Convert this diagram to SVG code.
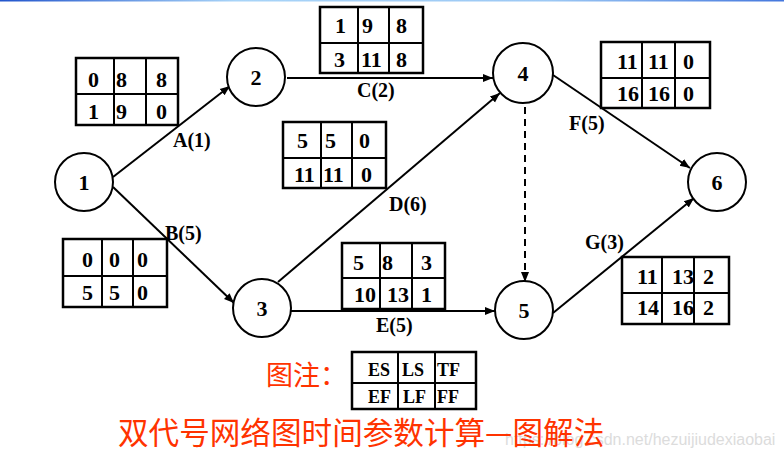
<svg xmlns="http://www.w3.org/2000/svg" width="784" height="460" viewBox="0 0 784 460">
<style>
.nd{fill:#fff;stroke:#000;stroke-width:2}
.nt{font-family:"Liberation Serif",serif;font-weight:bold;font-size:22px;text-anchor:middle;fill:#000}
.tb{fill:#fff;stroke:#000;stroke-width:2.5}
.tl{stroke:#000;stroke-width:2}
.tt{font-family:"Liberation Serif",serif;font-weight:bold;font-size:22px;fill:#000}
.lt{font-family:"Liberation Serif",serif;font-weight:bold;font-size:18px;fill:#000}
.el{font-family:"Liberation Serif",serif;font-weight:bold;font-size:20px;fill:#000}
.cn{stroke:#000;stroke-width:2;fill:none}
.red{font-family:"Noto Sans CJK SC",sans-serif;fill:#FF3300}
</style>
<defs>
<marker id="ah" viewBox="0 0 10 10" refX="10" refY="5" markerWidth="10" markerHeight="10" markerUnits="userSpaceOnUse" orient="auto">
<path d="M0,1 L10,5 L0,9 Z" fill="#000"/>
</marker>
<linearGradient id="bl" x1="0" y1="0" x2="1" y2="0">
<stop offset="0" stop-color="#2255cc"/>
<stop offset="0.3" stop-color="#a8d4f8"/>
<stop offset="0.7" stop-color="#9cc8f4"/>
<stop offset="1" stop-color="#4477dd"/>
</linearGradient>
</defs>
<rect width="784" height="460" fill="#fff"/>
<rect x="0" y="0" width="784" height="1.5" fill="url(#bl)"/>

<g id="connectors">
<line class="cn" x1="113" y1="177" x2="230" y2="86" marker-end="url(#ah)"/>
<line class="cn" x1="113" y1="187" x2="234" y2="303" marker-end="url(#ah)"/>
<line class="cn" x1="287" y1="78" x2="493" y2="78" marker-end="url(#ah)"/>
<line class="cn" x1="278" y1="282" x2="500" y2="93" marker-end="url(#ah)"/>
<line class="cn" x1="291" y1="311" x2="495" y2="311" marker-end="url(#ah)"/>
<line class="cn" x1="525" y1="107" x2="525" y2="282" stroke-dasharray="7,5" marker-end="url(#ah)"/>
<line class="cn" x1="553" y1="75" x2="690" y2="168" marker-end="url(#ah)"/>
<line class="cn" x1="553" y1="313" x2="694" y2="198" marker-end="url(#ah)"/>
<text class="el" x="173" y="147">A(1)</text>
<text class="el" x="165" y="240">B(5)</text>
<text class="el" x="357" y="97">C(2)</text>
<text class="el" x="389" y="211">D(6)</text>
<text class="el" x="376" y="332">E(5)</text>
<text class="el" x="569" y="130">F(5)</text>
<text class="el" x="585" y="249">G(3)</text>
</g>

<g id="node1"><circle class="nd" cx="84" cy="182" r="29"/><text class="nt" x="84" y="190">1</text></g>
<g id="node2"><circle class="nd" cx="256" cy="77" r="29"/><text class="nt" x="256" y="85">2</text></g>
<g id="node3"><circle class="nd" cx="262" cy="308" r="29"/><text class="nt" x="262" y="316">3</text></g>
<g id="node4"><circle class="nd" cx="523" cy="73" r="30"/><text class="nt" x="523" y="81">4</text></g>
<g id="node5"><circle class="nd" cx="524" cy="310" r="29"/><text class="nt" x="524" y="318">5</text></g>
<g id="node6"><circle class="nd" cx="717" cy="182" r="29"/><text class="nt" x="717" y="190">6</text></g>

<g id="tableA">
<rect class="tb" x="76" y="58" width="102" height="67"/>
<line class="tl" x1="114" y1="58" x2="114" y2="125"/><line class="tl" x1="146" y1="58" x2="146" y2="125"/><line class="tl" x1="76" y1="94" x2="178" y2="94"/>
<text class="tt" x="88" y="87">0</text><text class="tt" x="116" y="87">8</text><text class="tt" x="156" y="87">8</text>
<text class="tt" x="88" y="119">1</text><text class="tt" x="116" y="119">9</text><text class="tt" x="156" y="119">0</text>
</g>
<g id="tableB">
<rect class="tb" x="63" y="239" width="104" height="68"/>
<line class="tl" x1="102" y1="239" x2="102" y2="307"/><line class="tl" x1="133" y1="239" x2="133" y2="307"/><line class="tl" x1="63" y1="276" x2="167" y2="276"/>
<text class="tt" x="82" y="267">0</text><text class="tt" x="109" y="267">0</text><text class="tt" x="137" y="267">0</text>
<text class="tt" x="82" y="300">5</text><text class="tt" x="109" y="300">5</text><text class="tt" x="137" y="300">0</text>
</g>
<g id="tableC">
<rect class="tb" x="320" y="7" width="103" height="66"/>
<line class="tl" x1="358" y1="7" x2="358" y2="73"/><line class="tl" x1="389" y1="7" x2="389" y2="73"/><line class="tl" x1="320" y1="43" x2="423" y2="43"/>
<text class="tt" x="335" y="33">1</text><text class="tt" x="362" y="33">9</text><text class="tt" x="396" y="33">8</text>
<text class="tt" x="334" y="67">3</text><text class="tt" x="361" y="67">11</text><text class="tt" x="396" y="67">8</text>
</g>
<g id="tableD">
<rect class="tb" x="283" y="122" width="103" height="66"/>
<line class="tl" x1="321" y1="122" x2="321" y2="188"/><line class="tl" x1="352" y1="122" x2="352" y2="188"/><line class="tl" x1="283" y1="158" x2="386" y2="158"/>
<text class="tt" x="297" y="148">5</text><text class="tt" x="325" y="148">5</text><text class="tt" x="359" y="148">0</text>
<text class="tt" x="294" y="182">11</text><text class="tt" x="323" y="182">11</text><text class="tt" x="361" y="182">0</text>
</g>
<g id="tableE">
<rect class="tb" x="342" y="243" width="103" height="66"/>
<line class="tl" x1="380" y1="243" x2="380" y2="309"/><line class="tl" x1="412" y1="243" x2="412" y2="309"/><line class="tl" x1="342" y1="278" x2="445" y2="278"/>
<text class="tt" x="353" y="270">5</text><text class="tt" x="382" y="270">8</text><text class="tt" x="421" y="270">3</text>
<text class="tt" x="354" y="302">10</text><text class="tt" x="387" y="302">13</text><text class="tt" x="421" y="302">1</text>
</g>
<g id="tableF">
<rect class="tb" x="601" y="42" width="109" height="66"/>
<line class="tl" x1="642" y1="42" x2="642" y2="108"/><line class="tl" x1="675" y1="42" x2="675" y2="108"/><line class="tl" x1="601" y1="78" x2="710" y2="78"/>
<text class="tt" x="617" y="69">11</text><text class="tt" x="648" y="69">11</text><text class="tt" x="683" y="69">0</text>
<text class="tt" x="617" y="101">16</text><text class="tt" x="648" y="101">16</text><text class="tt" x="683" y="101">0</text>
</g>
<g id="tableG">
<rect class="tb" x="622" y="257" width="107" height="67"/>
<line class="tl" x1="662" y1="257" x2="662" y2="324"/><line class="tl" x1="694" y1="257" x2="694" y2="324"/><line class="tl" x1="622" y1="293" x2="729" y2="293"/>
<text class="tt" x="637" y="284">11</text><text class="tt" x="672" y="284">13</text><text class="tt" x="703" y="284">2</text>
<text class="tt" x="637" y="315">14</text><text class="tt" x="672" y="315">16</text><text class="tt" x="703" y="315">2</text>
</g>

<g id="legend">
<text class="red" x="266" y="385" font-size="27">图注：</text>
<rect class="tb" x="352" y="352" width="124" height="57"/>
<line class="tl" x1="398" y1="352" x2="398" y2="409"/><line class="tl" x1="435" y1="352" x2="435" y2="409"/><line class="tl" x1="352" y1="383" x2="476" y2="383"/>
<text class="lt" x="368" y="376">ES</text><text class="lt" x="402" y="376">LS</text><text class="lt" x="437" y="376">TF</text>
<text class="lt" x="368" y="403">EF</text><text class="lt" x="403" y="403">LF</text><text class="lt" x="437" y="403">FF</text>
</g>

<g id="title">
<text x="505" y="445" font-family="'Liberation Sans',sans-serif" font-size="16" fill="#dcdcdc">https://blog.csdn.net/hezuijiudexiaobai</text>
<text class="red" x="118" y="444" font-size="30.6">双代号网络图时间参数计算—图解法</text>
</g>
</svg>
